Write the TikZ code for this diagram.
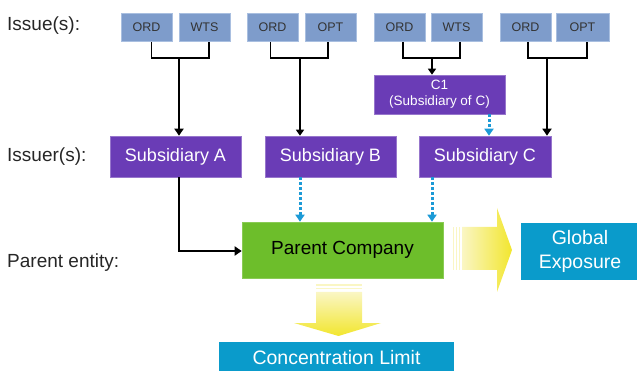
\documentclass[tikz,border=0pt]{standalone}
\usepackage{fontspec}
\setmainfont{Liberation Sans}
\usetikzlibrary{arrows.meta,calc}
\definecolor{issuec}{HTML}{7E9CCB}
\definecolor{issueb}{HTML}{A9BFE0}
\definecolor{purp}{HTML}{6A3CB6}
\definecolor{grn}{HTML}{6DBE2B}
\definecolor{cyanbox}{HTML}{0A9BCB}
\definecolor{dashblue}{HTML}{1C9AD6}
\definecolor{ylw}{HTML}{F2E62E}
\definecolor{ylwpale}{HTML}{FAF6C4}
\tikzset{
  lbl/.style={anchor=base west, inner sep=0pt, font=\fontsize{19}{21}\selectfont, text=black!85},
  issuebox/.style={fill=issuec, draw=issueb, line width=0.6pt, minimum width=51pt, minimum height=28.5pt, inner sep=0pt, font=\fontsize{12.5}{13}\selectfont, text=black!80},
  subbox/.style={fill=purp, draw=purp!70, line width=0.6pt, minimum width=131pt, minimum height=41pt, inner sep=0pt, font=\fontsize{18}{19}\selectfont, text=white},
  bracket/.style={draw=black, line width=1.3pt},
  blkthick/.style={draw=black, line width=2.8pt, -{Triangle[length=7pt,width=9pt]}},
  blkthin/.style={draw=black, line width=1.8pt, -{Triangle[length=6pt,width=8pt]}},
  bluedash/.style={draw=dashblue, line width=3pt, dash pattern=on 3pt off 2pt, -{Triangle[length=7pt,width=9pt]}},
}
\begin{document}
\begin{tikzpicture}[x=1pt,y=-1pt]
\useasboundingbox (0,0) rectangle (637,371);
% labels
\node[lbl] (l1) at (7,31) {Issue(s):};
\node[lbl] (l2) at (7,162) {Issuer(s):};
\node[lbl] (l3) at (7,268) {Parent entity:};
% issues
\node[issuebox] (g1o) at (146.5,27.25) {ORD};
\node[issuebox] (g1w) at (204.5,27.25) {WTS};
\node[issuebox] (g2o) at (272.5,27.25) {ORD};
\node[issuebox] (g2p) at (330.5,27.25) {OPT};
\node[issuebox] (g3o) at (399.5,27.25) {ORD};
\node[issuebox] (g3w) at (456.5,27.25) {WTS};
\node[issuebox] (g4o) at (525.5,27.25) {ORD};
\node[issuebox, minimum width=53pt] (g4p) at (582.5,27.25) {OPT};
% junctions
\coordinate (j1) at (179,58);
\coordinate (j2) at (300,58);
\coordinate (j3) at (432,58);
\coordinate (j4) at (547,58);
% C1
\node[subbox, minimum height=39pt, align=center, font=\fontsize{13.5}{16}\selectfont] (c1) at (439.5,94.5) {C1\\(Subsidiary of C)};
% issuers
\node[subbox] (sa) at (175.5,156.5) {Subsidiary A};
\node[subbox] (sb) at (330.5,156.5) {Subsidiary B};
\node[subbox, minimum width=132pt] (sc) at (485,156.5) {Subsidiary C};
% parent
\node[fill=grn, draw=grn!80!white, line width=0.6pt, minimum width=201pt, minimum height=56pt, inner sep=0pt, font=\fontsize{19}{21}\selectfont, text=black] (pc) at (342.5,250) {Parent Company};
% outputs
\node[fill=cyanbox, minimum width=118pt, minimum height=57pt, inner sep=0pt, align=center, font=\fontsize{19.5}{24}\selectfont, text=white] (ge) at (580,251.5) {Global\\Exposure};
\node[fill=cyanbox, minimum width=235pt, minimum height=31pt, inner sep=0pt, font=\fontsize{19.5}{21}\selectfont, text=white] (cl) at (336.5,357.5) {Concentration Limit};
% brackets
\draw[bracket] ([xshift=5pt]g1o.south) |- (j1) -| ([xshift=4.5pt]g1w.south);
\draw[bracket] ([xshift=-2pt]g2o.south) |- (j2) -| ([xshift=-2.5pt]g2p.south);
\draw[bracket] ([xshift=3.5pt]g3o.south) |- (j3) -| ([xshift=3.5pt]g3w.south);
\draw[bracket] ([xshift=2.5pt]g4o.south) |- (j4) -| ([xshift=4.5pt]g4p.south);
% arrows from issues
\draw[blkthick] (j1) -- (j1 |- sa.north);
\draw[blkthin] (j2) -- (j2 |- sb.north);
\draw[blkthin] (j3) -- (j3 |- c1.north);
\draw[blkthick] (j4) -- (j4 |- sc.north);
% to parent
\draw[blkthick] (j1 |- sa.south) |- ([yshift=-1pt]pc.west);
\draw[bluedash] ([xshift=49.5pt]c1.south) -- ([xshift=49.5pt]c1.south |- sc.north);
\draw[bluedash] (j2 |- sb.south) -- (j2 |- pc.north);
\draw[bluedash] (j3 |- sc.south) -- (j3 |- pc.north);
% yellow right arrow
\fill[ylwpale] (452.5,227) rectangle (454,270);
\fill[ylwpale] (455.5,227) rectangle (457,270);
\fill[ylwpale] (458.5,227) rectangle (460,270);
\shade[left color=ylwpale, right color=ylw] (462,227) -- (497,227) -- (497,208) -- (512,250) -- (497,292) -- (497,270) -- (462,270) -- cycle;
% yellow down arrow
\fill[ylwpale] (316,284.5) rectangle (362,286);
\fill[ylwpale] (316,288) rectangle (362,289.5);
\shade[top color=ylwpale, bottom color=ylw] (316,292) -- (362,292) -- (362,323) -- (381,323) -- (338.5,336) -- (294,323) -- (316,323) -- cycle;
\end{tikzpicture}
\end{document}
